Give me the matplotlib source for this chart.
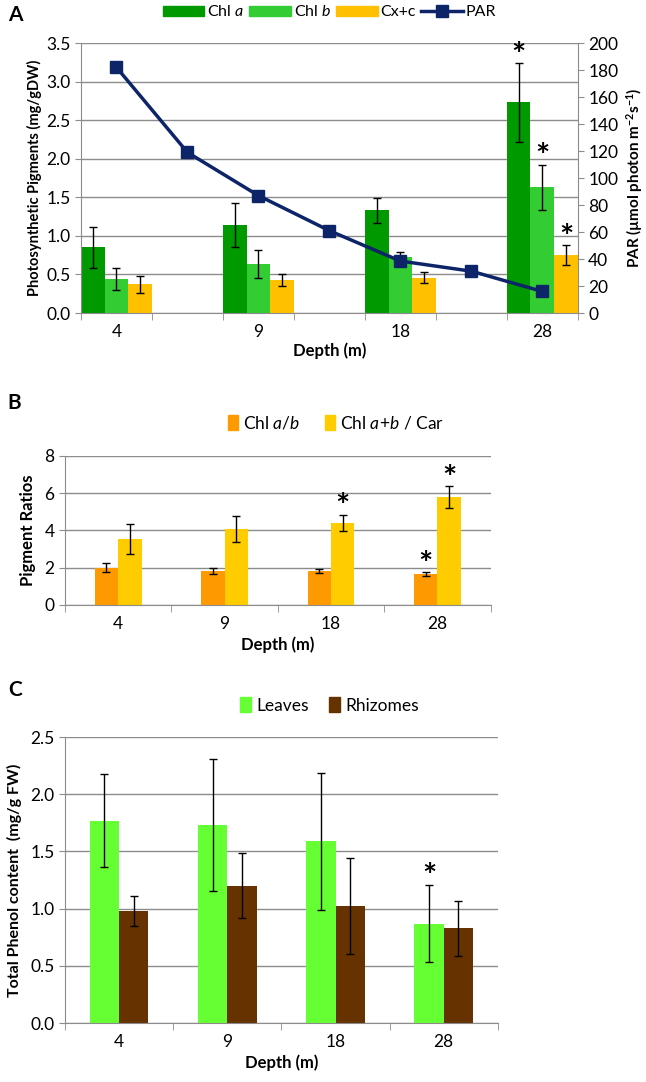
import matplotlib
matplotlib.use("Agg")

import matplotlib.pyplot as plt
import numpy as np
from matplotlib.lines import Line2D
from matplotlib.patches import Patch

plt.rcParams["font.family"] = ["Lato", "DejaVu Sans"]
plt.rcParams["mathtext.fontset"] = "custom"
plt.rcParams["mathtext.rm"] = "Lato"
plt.rcParams["mathtext.it"] = "Lato:italic"
plt.rcParams["mathtext.bf"] = "Lato:bold"

depths = ["4", "9", "18", "28"]

# panel A
chl_a = [0.85, 1.14, 1.33, 2.73]
chl_a_err = [0.27, 0.28, 0.16, 0.51]
chl_b = [0.44, 0.64, 0.72, 1.63]
chl_b_err = [0.145, 0.18, 0.07, 0.29]
cxc = [0.37, 0.43, 0.46, 0.75]
cxc_err = [0.105, 0.078, 0.075, 0.13]
par = [182, 119, 87, 61, 38.5, 31, 16]

# panel B
ratio_ab = [2.0, 1.82, 1.82, 1.67]
ratio_ab_err = [0.25, 0.14, 0.12, 0.09]
ratio_car = [3.52, 4.09, 4.41, 5.79]
ratio_car_err = [0.8, 0.7, 0.43, 0.58]

# panel C
leaves = [1.77, 1.73, 1.59, 0.87]
leaves_err = [0.41, 0.58, 0.6, 0.34]
rhizomes = [0.98, 1.2, 1.02, 0.83]
rhizomes_err = [0.13, 0.285, 0.42, 0.24]

grid_col = "#8c8c8c"
verde_osc = "#009900"
verde_cl = "#33CC33"
amarillo = "#FFC000"
azul = "#0D2468"
naranja = "#FF9900"
amarillo2 = "#FFCC00"
verde_hoja = "#66FF33"
marron = "#663300"

ekw = dict(ecolor="black", elinewidth=1, capsize=3, capthick=1)

fig = plt.figure(figsize=(6.46, 10.82), dpi=100)


def estilo(ax, ymax, step, fmt):
    ax.set_axisbelow(True)
    ax.yaxis.grid(True, color=grid_col, linewidth=1)
    for s in ["top", "right"]:
        ax.spines[s].set_visible(False)
    for s in ["left", "bottom"]:
        ax.spines[s].set_color(grid_col)
    ax.set_ylim(0, ymax)
    ax.set_yticks(np.arange(0, ymax + step / 2, step))
    ax.set_yticklabels([fmt.format(v) for v in np.arange(0, ymax + step / 2, step)])
    ax.tick_params(axis="y", colors=grid_col, labelcolor="black", labelsize=12.5, length=4)
    ax.tick_params(axis="x", which="major", length=0, labelsize=12.5, pad=8)
    ax.tick_params(axis="x", which="minor", length=5, color=grid_col)


def estrella(ax, x, y):
    ax.annotate("*", (x, y), xytext=(0, 5), textcoords="offset points",
                ha="center", va="center", fontsize=24, fontweight="bold")


# ---------- A ----------
axA = fig.add_axes([0.1254, 0.7107, 0.769, 0.2495])
pos = np.array([0, 2, 4, 6])
w = 1 / 3
axA.bar(pos - w, chl_a, w, color=verde_osc, yerr=chl_a_err, error_kw=ekw)
axA.bar(pos, chl_b, w, color=verde_cl, yerr=chl_b_err, error_kw=ekw)
axA.bar(pos + w, cxc, w, color=amarillo, yerr=cxc_err, error_kw=ekw)
axA.set_xlim(-0.5, 6.5)
estilo(axA, 3.5, 0.5, "{:.1f}")
axA.set_xticks(pos)
axA.set_xticklabels(depths)
axA.set_xticks(np.arange(-0.5, 7, 1), minor=True)
axA.set_xlabel("Depth (m)", fontweight="bold", fontsize=12, labelpad=2)
axA.set_ylabel("Photosynthetic Pigments (mg/gDW)", fontweight="bold", fontsize=10.5, labelpad=3)
estrella(axA, 6 - w, chl_a[3] + chl_a_err[3])
estrella(axA, 6, chl_b[3] + chl_b_err[3])
estrella(axA, 6 + w, cxc[3] + cxc_err[3])

axP = axA.twinx()
axP.plot(np.arange(len(par)), par, color=azul, linewidth=2.5, marker="s", markersize=9)
axP.set_ylim(0, 200)
axP.set_yticks(np.arange(0, 201, 20))
for s in ["top", "left", "bottom"]:
    axP.spines[s].set_visible(False)
axP.spines["right"].set_color(grid_col)
axP.tick_params(axis="y", colors=grid_col, labelcolor="black", labelsize=12.5, length=4)
axP.set_ylabel("PAR (µmol photon m$^{\\mathregular{-2}}$s$^{\\mathregular{-1}}$)",
               fontweight="bold", fontsize=11)

hA = [Patch(color=verde_osc), Patch(color=verde_cl), Patch(color=amarillo),
      Line2D([], [], color=azul, linewidth=2.5, marker="s", markersize=8)]
fig.legend(hA, ["Chl $\\it{a}$", "Chl $\\it{b}$", "Cx+c", "PAR"], loc="center",
           bbox_to_anchor=(0.51, 0.989), ncol=4, frameon=False, fontsize=11.5,
           handlelength=2.6, handleheight=0.6, handletextpad=0.2, columnspacing=0.3)
fig.text(0.012, 0.986, "A", fontsize=15, fontweight="bold", va="center")

# ---------- B ----------
axB = fig.add_axes([0.1006, 0.4409, 0.659, 0.1377])
x = np.arange(4)
wb = 0.22
axB.bar(x - wb / 2, ratio_ab, wb, color=naranja, yerr=ratio_ab_err, error_kw=ekw)
axB.bar(x + wb / 2, ratio_car, wb, color=amarillo2, yerr=ratio_car_err, error_kw=ekw)
axB.set_xlim(-0.5, 3.5)
estilo(axB, 8, 2, "{:.0f}")
axB.set_xticks(x)
axB.set_xticklabels(depths)
axB.set_xticks(np.arange(-0.5, 4, 1), minor=True)
axB.set_xlabel("Depth (m)", fontweight="bold", fontsize=12, labelpad=3)
axB.set_ylabel("Pigment Ratios", fontweight="bold", fontsize=12, labelpad=6)
estrella(axB, 2 + wb / 2, ratio_car[2] + ratio_car_err[2])
estrella(axB, 3 - wb / 2, ratio_ab[3] + ratio_ab_err[3])
estrella(axB, 3 + wb / 2, ratio_car[3] + ratio_car_err[3])

hB = [Patch(color=naranja), Patch(color=amarillo2)]
fig.legend(hB, ["Chl $\\it{a/b}$", "Chl $\\it{a\\!+\\!b}$ / Car"], loc="center",
           bbox_to_anchor=(0.52, 0.609), ncol=2, frameon=False, fontsize=12.5,
           handlelength=0.6, handleheight=0.9, handletextpad=0.3, columnspacing=1.4)
fig.text(0.012, 0.628, "B", fontsize=15, fontweight="bold", va="center")

# ---------- C ----------
axC = fig.add_axes([0.1006, 0.0545, 0.670, 0.2643])
wc = 0.27
axC.bar(x - wc / 2, leaves, wc, color=verde_hoja, yerr=leaves_err, error_kw=ekw)
axC.bar(x + wc / 2, rhizomes, wc, color=marron, yerr=rhizomes_err, error_kw=ekw)
axC.set_xlim(-0.5, 3.5)
estilo(axC, 2.5, 0.5, "{:.1f}")
axC.set_xticks(x)
axC.set_xticklabels(depths)
axC.set_xticks(np.arange(-0.5, 4, 1), minor=True)
axC.set_xlabel("Depth (m)", fontweight="bold", fontsize=12, labelpad=3)
axC.set_ylabel("Total Phenol content  (mg/g FW)", fontweight="bold", fontsize=11.5, labelpad=6)
estrella(axC, 3 - wc / 2, leaves[3] + leaves_err[3])

hC = [Patch(color=verde_hoja), Patch(color=marron)]
fig.legend(hC, ["Leaves", "Rhizomes"], loc="center",
           bbox_to_anchor=(0.51, 0.348), ncol=2, frameon=False, fontsize=12.5,
           handlelength=0.6, handleheight=0.9, handletextpad=0.3, columnspacing=1.2)
fig.text(0.012, 0.362, "C", fontsize=15, fontweight="bold", va="center")

fig.savefig("out.png", dpi=100)
